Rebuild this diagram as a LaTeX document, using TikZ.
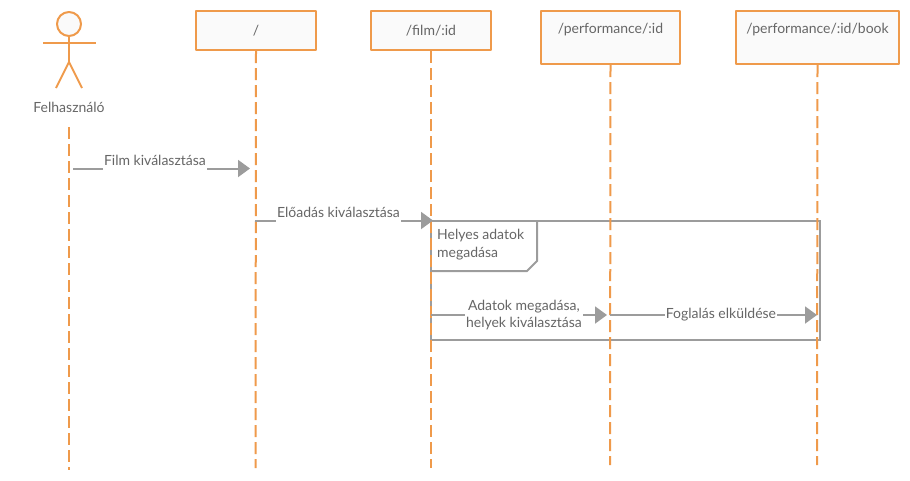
\documentclass[tikz,border=0pt]{standalone}
\usepackage{fontspec}
\setmainfont{Lato}
\usetikzlibrary{arrows.meta}
\definecolor{lineorange}{HTML}{EF9A4B}
\definecolor{msggray}{HTML}{9C9C9C}
\definecolor{textgray}{HTML}{666666}
\tikzset{
	pagebox/.style={draw=lineorange,line width=2pt,fill=black!2,text=textgray,anchor=north west,inner sep=0pt},
	lifeline/.style={draw=lineorange,line width=2pt,dash pattern=on 12pt off 5pt},
	actorline/.style={draw=lineorange,line width=2pt},
	msg/.style={draw=msggray,line width=2pt,-{Triangle[length=12pt,width=17pt]}},
	msglabel/.style={fill=white,text=textgray,inner sep=1pt,minimum height=20pt,align=center},
	frameline/.style={draw=msggray,line width=2pt,line join=miter}
}
\begin{document}
\begin{tikzpicture}[x=1pt,y=-1pt,font=\fontsize{14}{17.5}\selectfont,line join=round]
	\useasboundingbox(0,0)rectangle(910,480);
	% pages
	\node[pagebox,minimum width=120pt,minimum height=39pt](home)at(195,10){/};
	\node[pagebox,minimum width=120pt,minimum height=39pt](film)at(370,10){/film/:id};
	\node[pagebox,minimum width=139pt,minimum height=53pt,text depth=18pt](perf)at(540,10){/performance/:id};
	\node[pagebox,minimum width=163pt,minimum height=53pt,text depth=18pt](book)at(735,10){/performance/:id/book};
	% actor
	\node[circle,actorline,fill=black!2,minimum size=24pt,inner sep=0pt](head)at(69,24){};
	\coordinate(armL)at(43,43);
	\coordinate(armR)at(96,43);
	\coordinate(hip)at(69,62);
	\coordinate(legL)at(56,88);
	\coordinate(legR)at(82,88);
	\draw[actorline](armL)--(armR);
	\draw[actorline](head)--(hip);
	\draw[actorline](legL)--(hip)--(legR);
	\node[text=textgray,inner sep=0pt](user)at(69,107){Felhasználó};
	% frame
	\coordinate(frameA)at(431,221);
	\coordinate(frameB)at(820,221);
	\coordinate(frameC)at(820,340);
	\coordinate(frameD)at(431,340);
	\coordinate(tabA)at(537,221);
	\coordinate(tabB)at(537,261);
	\coordinate(tabC)at(527,271);
	\coordinate(tabD)at(431,271);
	\draw[frameline](frameA)--(frameB)--(frameC)--(frameD)--cycle;
	\draw[frameline](tabA)--(tabB)--(tabC)--(tabD);
	\node[text=textgray,inner sep=0pt,anchor=north west,align=left](cond)at(437,229){Helyes adatok\\megadása};
	% lifelines
	\coordinate(userTop)at(69,127);
	\coordinate(userEnd)at(69,470);
	\coordinate(homeEnd)at(255.5,468);
	\coordinate(filmEnd)at(431,468);
	\coordinate(perfEnd)at(610,465);
	\coordinate(bookEnd)at(817,465);
	\draw[lifeline](userTop)--(userEnd);
	\draw[lifeline](home.south)--(homeEnd);
	\draw[lifeline](film.south)--(filmEnd);
	\draw[lifeline](perf.south)--(perfEnd);
	\draw[lifeline](book.south)--(bookEnd);
	% messages
	\coordinate(m1a)at(73,168.5);
	\coordinate(m1b)at(250,168.5);
	\coordinate(m2a)at(255,220.5);
	\coordinate(m2b)at(433,220.5);
	\coordinate(m3a)at(431,315);
	\coordinate(m3b)at(607,315);
	\coordinate(m4a)at(610,315);
	\coordinate(m4b)at(817,315);
	\draw[msg](m1a)--node[msglabel,pos=.463,yshift=8pt]{Film kiválasztása}(m1b);
	\draw[msg](m2a)--node[msglabel,pos=.469,yshift=8pt]{Előadás kiválasztása}(m2b);
	\draw[msg](m3a)--node[msglabel,pos=.528]{Adatok megadása,\\helyek kiválasztása}(m3b);
	\draw[msg](m4a)--node[msglabel,pos=.536]{Foglalás elküldése}(m4b);
\end{tikzpicture}
\end{document}
